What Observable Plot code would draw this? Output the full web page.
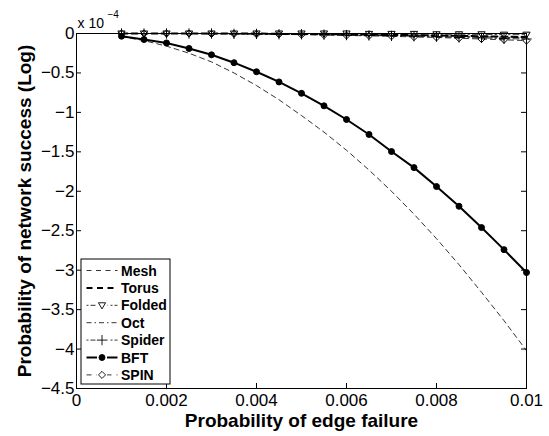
<!DOCTYPE html>
<html><head><meta charset="utf-8">
<script src="https://cdn.jsdelivr.net/npm/d3@7"></script>
<script src="https://cdn.jsdelivr.net/npm/@observablehq/plot@0.6"></script>
<style>body{margin:0;background:#fff}</style>
</head><body><div id="chart"></div>
<script>
// Data (y values in units of 1e-4)
const edgeFailure = [0.001,0.0015,0.002,0.0025,0.003,0.0035,0.004,0.0045,0.005,0.0055,0.006,0.0065,0.007,0.0075,0.008,0.0085,0.009,0.0095,0.01];
const mesh   = [-0.04,-0.09,-0.16,-0.25,-0.36,-0.50,-0.66,-0.84,-1.04,-1.25,-1.48,-1.73,-2.00,-2.29,-2.60,-2.93,-3.28,-3.64,-4.02];
const torus  = [0,0,0,0,0,0,0,-0.005,-0.005,-0.01,-0.01,-0.015,-0.02,-0.02,-0.025,-0.03,-0.035,-0.04,-0.045];
const folded = [0,0,0,0,0,0,0,0,0,0,0,-0.005,-0.005,-0.005,-0.01,-0.01,-0.01,-0.015,-0.015];
const oct    = [0,0,0,0,0,0,-0.005,-0.005,-0.01,-0.01,-0.015,-0.02,-0.02,-0.025,-0.03,-0.035,-0.04,-0.05,-0.055];
const spider = [0,0,0,0,0,-0.005,-0.005,-0.01,-0.01,-0.015,-0.02,-0.025,-0.03,-0.035,-0.04,-0.05,-0.055,-0.065,-0.07];
const bft    = [-0.034,-0.076,-0.12,-0.19,-0.27,-0.37,-0.485,-0.614,-0.758,-0.917,-1.09,-1.28,-1.496,-1.70,-1.94,-2.19,-2.46,-2.74,-3.03];
const spin   = [0,0,0,0,-0.005,-0.005,-0.01,-0.01,-0.015,-0.02,-0.025,-0.03,-0.035,-0.045,-0.05,-0.06,-0.07,-0.08,-0.09];

const seriesNames = ["Mesh","Torus","Folded","Oct","Spider","BFT","SPIN"];
const seriesValues = [mesh, torus, folded, oct, spider, bft, spin];

const xTicks = [0,0.002,0.004,0.006,0.008,0.01];
const xTickLabels = ["0","0.002","0.004","0.006","0.008","0.01"];
const yTicks = [0,-0.5,-1,-1.5,-2,-2.5,-3,-3.5,-4,-4.5];
const yTickLabels = ["0","\u22120.5","\u22121","\u22121.5","\u22122","\u22122.5","\u22123","\u22123.5","\u22124","\u22124.5"];

const xLabel = "Probability of edge failure";
const yLabel = "Probability of network success (Log)";

// custom open triangle pointing down
const triangleDown = {
  draw(ctx, size) {
    const r = Math.sqrt(size / Math.PI);
    ctx.moveTo(-r, -r * 0.7);
    ctx.lineTo(r, -r * 0.7);
    ctx.lineTo(0, r);
    ctx.closePath();
  }
};

// styles
const styles = {
  Mesh:   {dash: "5,4", width: 0.8, symbol: null},
  Torus:  {dash: "6,4", width: 2, symbol: null},
  Folded: {dash: "6,3,1.5,3", width: 0.8, symbol: triangleDown, r: 3.6, fill: "white"},
  Oct:    {dash: "6,3,1.5,3", width: 0.8, symbol: null},
  Spider: {dash: "6,3,1.5,3", width: 0.8, symbol: "plus", r: 3.4, fill: "none"},
  BFT:    {dash: null, width: 2, symbol: "circle", r: 3, fill: "black"},
  SPIN:   {dash: "5,4", width: 0.8, symbol: "diamond2", r: 3.2, fill: "none"}
};

const W = 549, H = 436, mL = 76, mR = 23, mT = 33, mB = 48;
const innerW = W - mL - mR, innerH = H - mT - mB;
const tick = 5;

const marks = [];
seriesNames.forEach((name, k) => {
  const rows = edgeFailure.map((x, i) => ({series: name, x, y: seriesValues[k][i]}));
  const s = styles[name];
  marks.push(Plot.line(rows, {x: "x", y: "y", stroke: "black", strokeWidth: s.width, strokeDasharray: s.dash}));
});
// markers drawn after lines
["Folded","Spider","SPIN","BFT"].forEach(name => {
  const k = seriesNames.indexOf(name);
  const rows = edgeFailure.map((x, i) => ({series: name, x, y: seriesValues[k][i]}));
  const s = styles[name];
  marks.push(Plot.dot(rows, {x: "x", y: "y", symbol: () => s.symbol, r: s.r, stroke: "black", strokeWidth: 1, fill: s.fill}));
});

const chart = Plot.plot({
  width: W, height: H,
  marginLeft: mL, marginRight: mR, marginTop: mT, marginBottom: mB,
  style: {fontFamily: "'Liberation Sans', Arial, sans-serif", background: "white", overflow: "visible", color: "black"},
  x: {domain: [0, 0.01]},
  y: {domain: [-4.5, 0]},
  symbol: {type: "identity"},
  marks: [
    ...marks,
    Plot.frame({stroke: "black", strokeWidth: 1}),
    Plot.tickX(xTicks, {x: d => d, stroke: "black", insetTop: innerH - tick}),
    Plot.tickX(xTicks, {x: d => d, stroke: "black", insetBottom: innerH - tick}),
    Plot.tickY(yTicks, {y: d => d, stroke: "black", insetRight: innerW - tick}),
    Plot.tickY(yTicks, {y: d => d, stroke: "black", insetLeft: innerW - tick}),
    Plot.axisX({ticks: xTicks, tickFormat: d => xTickLabels[xTicks.indexOf(d)], tickSize: 0, tickPadding: 5, fontSize: 17, label: null}),
    Plot.axisY({ticks: yTicks, tickFormat: d => yTickLabels[yTicks.indexOf(d)], tickSize: 0, tickPadding: 2, fontSize: 17, label: null}),
    Plot.text([xLabel], {frameAnchor: "bottom", dy: 32, textAnchor: "middle", lineAnchor: "middle", fontSize: 19, fontWeight: "bold", fill: "black"}),
    Plot.text([yLabel], {frameAnchor: "left", dx: -52, rotate: -90, textAnchor: "middle", lineAnchor: "middle", fontSize: 19, fontWeight: "bold", fill: "black"}),
    Plot.text(["x 10"], {frameAnchor: "top-left", dx: 1, dy: -10, textAnchor: "start", lineAnchor: "middle", fontSize: 14, fill: "black"}),
    Plot.text(["\u22124"], {frameAnchor: "top-left", dx: 31, dy: -19, textAnchor: "start", lineAnchor: "middle", fontSize: 10, fill: "black"})
  ]
});

// Legend
const svg = d3.select(chart);
const lg = svg.append("g");
const lx = 81, ly = 259, lw = 89, lh = 125, rowH = 17.4, y0 = 270.5;
lg.append("rect").attr("x", lx).attr("y", ly).attr("width", lw).attr("height", lh)
  .attr("fill", "white").attr("stroke", "black").attr("stroke-width", 1);
const legendDash = {Mesh: "5,4.5", Torus: "6,4.5", Folded: "2,2,5,3", Oct: "5,3,1.5,3", Spider: "2,2,5,3", BFT: null, SPIN: "5,5"};
seriesNames.forEach((name, i) => {
  const s = styles[name];
  const cy = y0 + i * rowH;
  lg.append("line").attr("x1", 86.5).attr("x2", 117.5).attr("y1", cy).attr("y2", cy)
    .attr("stroke", "black").attr("stroke-width", s.width)
    .attr("stroke-dasharray", legendDash[name]);
  if (s.symbol) {
    const sym = s.symbol === "circle" ? d3.symbolCircle : s.symbol === "plus" ? d3.symbolPlus : s.symbol === "diamond2" ? d3.symbolDiamond2 : s.symbol;
    const area = Math.PI * s.r * s.r;
    lg.append("rect").attr("x", 97).attr("y", cy - 4.5).attr("width", 10).attr("height", 9).attr("fill", "white");
    lg.append("path").attr("d", d3.symbol(sym, area)()).attr("transform", `translate(102,${cy})`)
      .attr("fill", s.fill).attr("stroke", "black").attr("stroke-width", 0.9);
  }
  lg.append("text").attr("x", 121).attr("y", cy).attr("dy", "0.36em").attr("text-anchor", "start")
    .attr("font-size", 14).attr("font-weight", "bold").attr("fill", "black").text(name);
});

document.getElementById("chart").appendChild(chart);
</script>
</body></html>
